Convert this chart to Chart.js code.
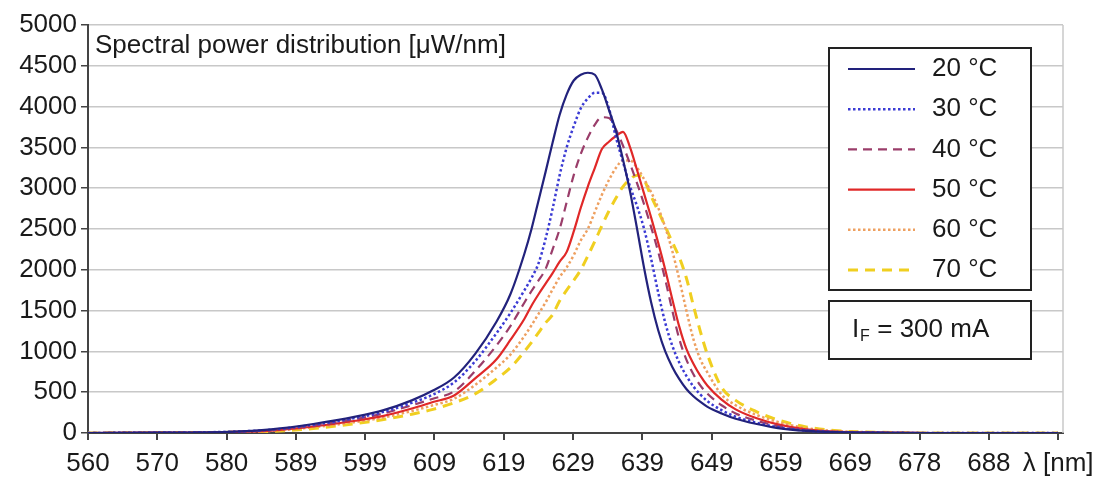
<!DOCTYPE html>
<html>
<head>
<meta charset="utf-8">
<script src="https://cdn.jsdelivr.net/npm/chart.js@4.4.0/dist/chart.umd.min.js"></script>
<style>
  html, body { margin: 0; padding: 0; background: #fff; }
  #wrap { width: 1106px; height: 486px; }
</style>
</head>
<body>
<div id="wrap"><canvas id="spd" width="1106" height="486"></canvas></div>
<script>
// wavelength samples [nm], shared by all curves
const wavelengths = [560, 570, 580, 586, 592, 598, 602, 606, 609, 612,
  615, 618, 620, 622, 623, 624, 625, 626, 627, 628,
  629, 630, 631, 632, 633, 634, 635, 636, 637, 638,
  639, 640, 641, 642, 643, 644, 645, 646, 647, 648,
  650, 652, 655, 658, 662, 666, 672, 680, 690, 697.8];

// spectral power [uW/nm] per temperature
const t20 = [0, 5, 15, 45, 110, 200, 280, 400, 520, 680,
  970, 1360, 1700, 2200, 2500, 2850, 3200, 3560, 3900, 4150,
  4320, 4390, 4415, 4390, 4210, 3960, 3700, 3350, 2960, 2500,
  2020, 1600, 1260, 1000, 810, 660, 540, 450, 380, 320,
  240, 175, 110, 60, 25, 10, 5, 0, 0, 0];
const t30 = [0, 5, 15, 40, 100, 185, 260, 370, 470, 620,
  880, 1220, 1470, 1750, 1900, 2080, 2380, 2750, 3160, 3500,
  3760, 3980, 4100, 4170, 4170, 3980, 3620, 3320, 3020, 2780,
  2500, 2130, 1720, 1350, 1070, 860, 700, 570, 470, 390,
  280, 200, 125, 70, 30, 12, 5, 0, 0, 0];
const t40 = [0, 5, 12, 35, 90, 170, 240, 340, 420, 510,
  760, 1070, 1310, 1600, 1740, 1870, 2010, 2250, 2500, 2830,
  3160, 3420, 3620, 3780, 3870, 3860, 3720, 3520, 3300, 3060,
  2800, 2520, 2220, 1880, 1500, 1150, 900, 720, 580, 480,
  340, 240, 150, 85, 35, 15, 5, 0, 0, 0];
const t50 = [0, 5, 12, 30, 80, 150, 210, 300, 380, 460,
  670, 900, 1140, 1400, 1560, 1700, 1830, 1960, 2100, 2220,
  2470, 2760, 3020, 3250, 3480, 3570, 3640, 3690, 3500, 3220,
  2930, 2640, 2330, 2000, 1640, 1300, 1030, 850, 700, 580,
  410, 290, 180, 105, 45, 18, 6, 0, 0, 0];
const t60 = [0, 5, 10, 25, 70, 135, 190, 270, 340, 420,
  590, 800, 960, 1190, 1320, 1460, 1600, 1760, 1910, 2030,
  2180, 2360, 2500, 2710, 2920, 3100, 3250, 3340, 3340, 3250,
  3110, 2950, 2760, 2520, 2230, 1880, 1500, 1150, 900, 740,
  470, 340, 220, 135, 60, 25, 8, 0, 0, 0];
const t70 = [0, 5, 8, 20, 55, 115, 165, 230, 290, 370,
  480, 660, 800, 1000, 1110, 1230, 1350, 1450, 1620, 1750,
  1870, 2000, 2170, 2350, 2540, 2720, 2880, 3020, 3110, 3160,
  3100, 2900, 2720, 2530, 2340, 2150, 1900, 1560, 1240, 960,
  560, 400, 260, 160, 75, 30, 10, 0, 0, 0];

const seriesNames = ['20 °C', '30 °C', '40 °C', '50 °C', '60 °C', '70 °C'];

// x axis: Excel style category ticks
const tickPositions = [560, 569.84, 579.69, 589.53, 599.38, 609.22, 619.06, 628.91,
  638.75, 648.59, 658.44, 668.28, 678.13, 687.97, 697.81];
const tickLabels = ['560', '570', '580', '589', '599', '609', '619', '629',
  '639', '649', '659', '669', '678', '688', 'λ [nm]'];

const chartTitle = 'Spectral power distribution [μW/nm]';
const FONT = '"Liberation Sans", Arial, sans-serif';

const pts = vals => wavelengths.map((w, i) => ({ x: w, y: vals[i] }));

const styles = [
  { color: '#22227c', width: 2.2, dash: [] },
  { color: '#3b3bd4', width: 2.5, dash: [2.5, 2.5] },
  { color: '#9a3d6a', width: 2.2, dash: [9, 6] },
  { color: '#e02828', width: 2.2, dash: [] },
  { color: '#eea060', width: 2.5, dash: [2.5, 2.5] },
  { color: '#f0cf20', width: 3, dash: [10, 7] }
];
const allSeries = [t20, t30, t40, t50, t60, t70];

const datasets = allSeries.map((vals, i) => ({
  label: seriesNames[i],
  data: pts(vals),
  borderColor: styles[i].color,
  borderWidth: styles[i].width,
  borderDash: styles[i].dash,
  pointRadius: 0,
  fill: false,
  cubicInterpolationMode: 'monotone'
}));

// legend boxes, title and right border drawn on top
const boxLegend = {
  id: 'boxLegend',
  afterDatasetsDraw(chart) {
    const ctx = chart.ctx;
    const area = chart.chartArea;
    ctx.save();

    ctx.strokeStyle = '#c8c8c8';
    ctx.lineWidth = 1.5;
    ctx.beginPath();
    ctx.moveTo(area.right, area.top);
    ctx.lineTo(area.right, area.bottom);
    ctx.stroke();

    ctx.font = '26px ' + FONT;
    ctx.fillStyle = '#1a1a1a';
    ctx.textBaseline = 'middle';
    ctx.fillText(chartTitle, 95, 46);

    ctx.fillStyle = '#fff';
    ctx.fillRect(829, 48, 202, 242);
    ctx.strokeStyle = '#222';
    ctx.lineWidth = 2;
    ctx.strokeRect(829, 48, 202, 242);

    chart.data.datasets.forEach((ds, i) => {
      const y = 69 + i * 40.2;
      ctx.beginPath();
      ctx.setLineDash(ds.borderDash);
      ctx.strokeStyle = ds.borderColor;
      ctx.lineWidth = ds.borderWidth;
      ctx.moveTo(848, y);
      ctx.lineTo(915, y);
      ctx.stroke();
      ctx.setLineDash([]);
      ctx.fillStyle = '#1a1a1a';
      ctx.fillText(ds.label, 932, y);
    });

    ctx.fillStyle = '#fff';
    ctx.fillRect(829, 301, 202, 58);
    ctx.strokeStyle = '#222';
    ctx.lineWidth = 2;
    ctx.strokeRect(829, 301, 202, 58);
    ctx.fillStyle = '#1a1a1a';
    ctx.fillText('I', 852, 330);
    ctx.font = '16px ' + FONT;
    ctx.fillText('F', 860, 337);
    ctx.font = '26px ' + FONT;
    ctx.fillText(' = 300 mA', 870, 330);

    ctx.restore();
  }
};

new Chart(document.getElementById('spd'), {
  type: 'line',
  data: { datasets },
  options: {
    responsive: false,
    animation: false,
    layout: { padding: { left: 8, top: 25, right: 43, bottom: 0 } },
    plugins: { legend: { display: false }, tooltip: { enabled: false } },
    scales: {
      x: {
        type: 'linear',
        min: 560,
        max: 698.5,
        afterBuildTicks: scale => { scale.ticks = tickPositions.map(v => ({ value: v })); },
        afterFit: scale => { scale.height = 53; },
        border: { color: '#444', width: 2 },
        grid: { drawOnChartArea: false, drawTicks: true, tickLength: 7, tickColor: '#444', lineWidth: 2 },
        ticks: {
          autoSkip: false, maxRotation: 0, padding: 8,
          color: '#1a1a1a', font: { family: FONT, size: 26 },
          callback: (v, i) => tickLabels[i]
        }
      },
      y: {
        min: 0,
        max: 5000,
        afterFit: scale => { scale.width = 80; },
        border: { color: '#444', width: 2 },
        grid: { color: '#c8c8c8', lineWidth: 1.5, tickLength: 7, tickColor: '#444' },
        ticks: {
          stepSize: 500, padding: 4,
          color: '#1a1a1a', font: { family: FONT, size: 26 },
          callback: v => String(v)
        }
      }
    }
  },
  plugins: [boxLegend]
});
</script>
</body>
</html>
